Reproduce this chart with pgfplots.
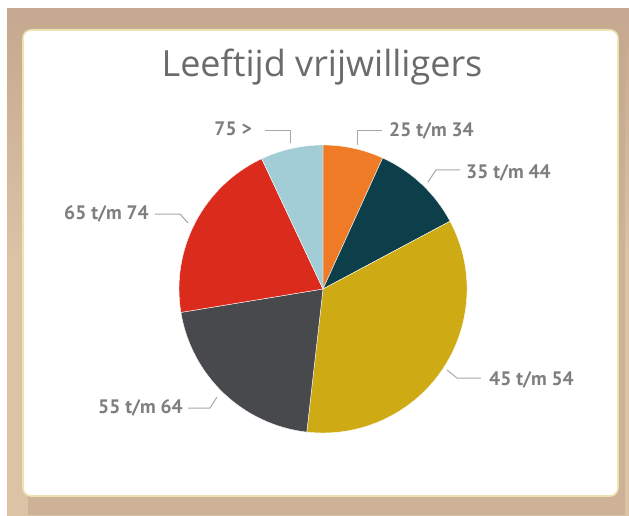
\documentclass[border=0pt]{standalone}
\usepackage{pgfplots}
\usepackage{pgfplotstable}
\pgfplotsset{compat=1.18}
\usepackage{fontspec}
\setmainfont{PT Sans}
\newfontfamily\titlefont{Open Sans}
\definecolor{c0}{HTML}{EF7B27}
\definecolor{c1}{HTML}{0D3F4B}
\definecolor{c2}{HTML}{CEAA14}
\definecolor{c3}{HTML}{48494C}
\definecolor{c4}{HTML}{DB2B1D}
\definecolor{c5}{HTML}{A2CDD6}
\definecolor{lbl}{HTML}{7E7E7E}
\definecolor{lead}{HTML}{A8A8A8}
\definecolor{tan}{HTML}{DCC3A6}
\definecolor{tandark}{HTML}{C4A88F}
\definecolor{ttl}{HTML}{6B6B6B}
\definecolor{rim}{HTML}{EDE2B0}

\pgfplotstableread[col sep=comma]{
label,value
25 t/m 34,6.8
35 t/m 44,10.4
45 t/m 54,34.6
55 t/m 64,20.6
65 t/m 74,20.6
75 >,7.0
}\piedata

\begin{document}
\begin{tikzpicture}
\begin{axis}[width=629pt,height=515pt,scale only axis,
  xmin=0,xmax=629,ymin=0,ymax=515,hide axis,clip=false]
% background frame
\fill[white] (axis cs:0,0) rectangle (axis cs:629,515);
\shade[top color=tandark, bottom color=tan, middle color=tan] (axis cs:7,0) rectangle (axis cs:629,506);
\fill[tandark, opacity=0.6] (axis cs:28,0) rectangle (axis cs:625,482);
\fill[white, draw=rim, line width=1.6pt, rounded corners=8pt] (axis cs:23,19) rectangle (axis cs:618,485);
% pie slices from the table
\xdef\cum{0}
\pgfplotsforeachungrouped \i in {0,...,5}{%
  \pgfplotstablegetelem{\i}{value}\of\piedata
  \let\val\pgfplotsretval
  \pgfmathsetmacro\sa{90-\cum*3.6}%
  \pgfmathsetmacro\newcum{\cum+\val}%
  \pgfmathsetmacro\ea{90-\newcum*3.6}%
  \xdef\cum{\newcum}%
  \edef\cmd{\noexpand\fill[c\i, draw=white, line width=0.4pt] (axis cs:323,226) -- ++(\sa:144pt) arc[start angle=\sa, end angle=\ea, radius=144pt] -- cycle;}%
  \cmd
}
% title
\node[anchor=base, text=ttl, font=\titlefont\fontsize{36}{40}\selectfont] at (axis cs:322,438) {Leeftijd vrijwilligers};
% leader lines
\begin{scope}[draw=lead, line width=1pt]
\draw (axis cs:265,384) -- (axis cs:290,384) -- (axis cs:290,372);
\draw (axis cs:357,370) -- (axis cs:357,384) -- (axis cs:382,384);
\draw (axis cs:428,333) -- (axis cs:436,345) -- (axis cs:460,345);
\draw (axis cs:447,145) -- (axis cs:457,137) -- (axis cs:481,137);
\draw (axis cs:188,107) -- (axis cs:210,107) -- (axis cs:217,118);
\draw (axis cs:155,301) -- (axis cs:180,301) -- (axis cs:188,292);
\end{scope}
% labels
\begin{scope}[every node/.style={text=lbl, inner sep=0pt, font=\bfseries\fontsize{19.5}{22}\selectfont}]
\node[anchor=base east] at (axis cs:252,379) {75 >};
\node[anchor=base west] at (axis cs:389,378) {25 t/m 34};
\node[anchor=base west] at (axis cs:466,337) {35 t/m 44};
\node[anchor=base west] at (axis cs:489,130) {45 t/m 54};
\node[anchor=base east] at (axis cs:183,102) {55 t/m 64};
\node[anchor=base east] at (axis cs:149,295) {65 t/m 74};
\end{scope}
\end{axis}
\end{tikzpicture}
\end{document}
